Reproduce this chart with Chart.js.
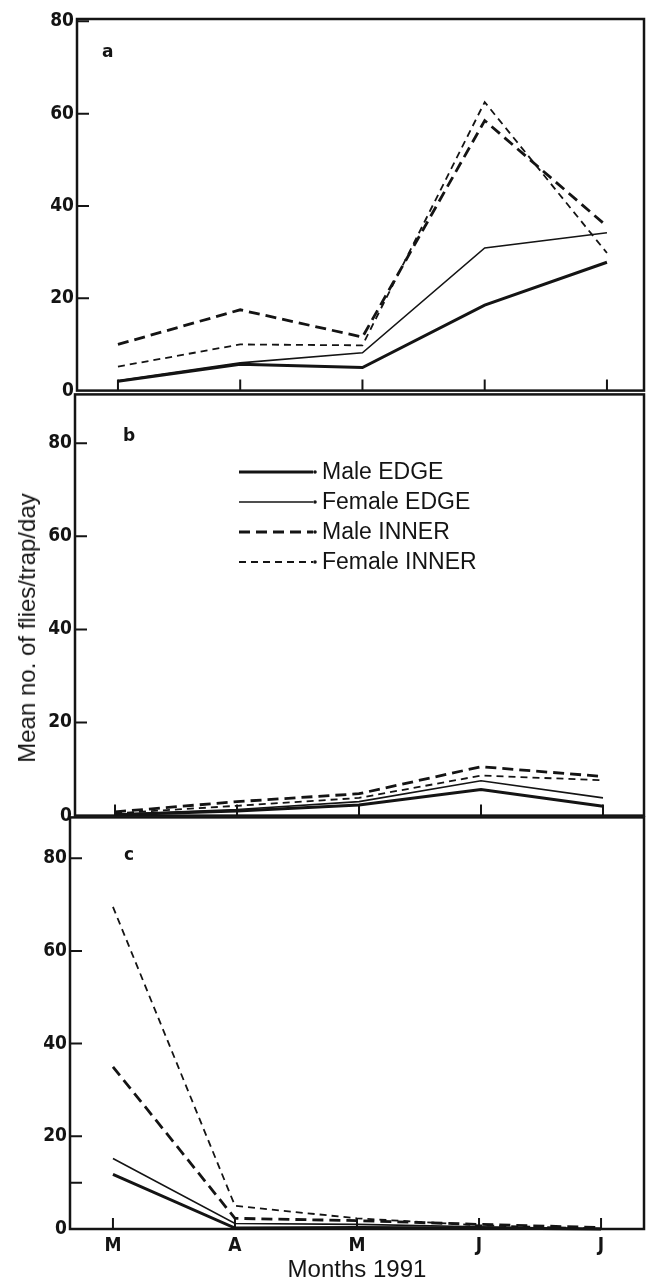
<!DOCTYPE html>
<html>
<head>
<meta charset="utf-8">
<script src="https://cdn.jsdelivr.net/npm/chart.js@4.4.1/dist/chart.umd.min.js"></script>
<style>
    html, body { margin: 0; padding: 0; background: #fff; }
    #wrap { position: relative; width: 646px; height: 1285px; overflow: hidden; }
    canvas { position: absolute; left: 0; }
    #ytitle {
        position: absolute; left: 27px; top: 628px;
        transform: translate(-50%, -50%) rotate(-90deg);
        font: 24px 'Liberation Sans', Arial, sans-serif;
        white-space: nowrap; color: #161616;
    }
</style>
</head>
<body>
<div id="wrap">
    <canvas id="chartA" width="646" height="405" style="top:0"></canvas>
    <canvas id="chartB" width="646" height="450" style="top:380px"></canvas>
    <canvas id="chartC" width="646" height="482" style="top:803px"></canvas>
    <div id="ytitle">Mean no. of flies/trap/day</div>
</div>
<script>
// --- Dados ---
const categories = ['M', 'A', 'M', 'J', 'J'];
const seriesNames = ['Male EDGE', 'Female EDGE', 'Male INNER', 'Female INNER'];

// painel a
const maleEdgeA = [2.0, 5.7, 5.0, 18.5, 27.8];
const femaleEdgeA = [2.2, 6.0, 8.2, 30.9, 34.2];
const maleInnerA = [10.0, 17.5, 11.6, 58.5, 35.6];
const femaleInnerA = [5.2, 10.0, 9.8, 62.5, 29.8];

// painel b
const maleEdgeB = [0.2, 1.0, 2.3, 5.6, 2.0];
const femaleEdgeB = [0.3, 1.3, 3.0, 7.5, 3.8];
const maleInnerB = [0.8, 3.0, 4.7, 10.5, 8.4];
const femaleInnerB = [0.5, 2.1, 3.8, 8.6, 7.6];

// painel c
const maleEdgeC = [11.8, 0.2, 0.3, 0.2, 0.0];
const femaleEdgeC = [15.2, 1.2, 1.0, 0.5, 0.0];
const maleInnerC = [35.0, 2.3, 1.8, 1.0, 0.3];
const femaleInnerC = [69.5, 5.0, 2.3, 0.8, 0.1];

// ticks
const yTicksA = [0, 20, 40, 60, 80];
const yTickLabelsA = ['0', '20', '40', '60', '80'];
const yTicksB = [0, 20, 40, 60, 80];
const yTickLabelsB = ['0', '20', '40', '60', '80'];
const yTicksC = [0, 10, 20, 40, 60, 80];
const yTickLabelsC = ['0', '', '20', '40', '60', '80'];

// --- Estilos ---
const INK = '#141414';
const tickFont = { family: "'DejaVu Sans Condensed', 'Liberation Sans Narrow', 'DejaVu Sans', sans-serif", size: 19, weight: 'bold' };
const lineStyles = [
    { borderWidth: 3.0, borderDash: [] },
    { borderWidth: 1.6, borderDash: [] },
    { borderWidth: 2.8, borderDash: [11, 6] },
    { borderWidth: 1.8, borderDash: [7, 5] }
];

function makeDatasets(seriesList) {
    return seriesList.map((values, k) => ({
        label: seriesNames[k],
        data: values.map((v, i) => ({ x: i, y: v })),
        borderColor: INK,
        borderWidth: lineStyles[k].borderWidth,
        borderDash: lineStyles[k].borderDash,
        pointRadius: 0,
        tension: 0,
        fill: false,
        clip: 4
    }));
}

// moldura, marcas internas e letra do painel
const framePlugin = {
    id: 'frame',
    afterDraw(chart, args, opts) {
        const { ctx, chartArea: a, scales: { x, y } } = chart;
        ctx.save();
        ctx.strokeStyle = INK;
        ctx.setLineDash([]);
        ctx.lineWidth = 2.5;
        ctx.strokeRect(a.left, a.top, a.right - a.left, a.bottom - a.top);

        ctx.lineWidth = 2;
        ctx.beginPath();
        y.ticks.forEach(t => {
            if (t.value === 0) return;
            const py = y.getPixelForValue(t.value);
            ctx.moveTo(a.left, py);
            ctx.lineTo(a.left + 12, py);
        });
        categories.forEach((c, i) => {
            const px = x.getPixelForValue(i);
            ctx.moveTo(px, a.bottom);
            ctx.lineTo(px, a.bottom - 11);
        });
        ctx.stroke();

        ctx.fillStyle = INK;
        ctx.font = "bold 17px 'DejaVu Sans', sans-serif";
        ctx.textBaseline = 'middle';
        ctx.fillText(opts.letter, opts.letterX, opts.letterY);
        ctx.restore();
    }
};

// legenda desenhada dentro do painel b
const lineLegendPlugin = {
    id: 'lineLegend',
    afterDraw(chart, args, opts) {
        if (!opts.show) return;
        const ctx = chart.ctx;
        ctx.save();
        chart.data.datasets.forEach((ds, k) => {
            const yy = opts.rows[k];
            ctx.strokeStyle = INK;
            ctx.lineWidth = ds.borderWidth;
            ctx.setLineDash(ds.borderDash);
            ctx.beginPath();
            ctx.moveTo(opts.x0, yy);
            ctx.lineTo(opts.x1, yy);
            ctx.stroke();
            ctx.setLineDash([]);
            ctx.fillStyle = INK;
            ctx.beginPath();
            ctx.arc(opts.x1 + 2, yy, 1.8, 0, Math.PI * 2);
            ctx.fill();
            ctx.font = "23px 'Liberation Sans', Arial, sans-serif";
            ctx.textBaseline = 'middle';
            ctx.fillText(ds.label, opts.textX, yy + 1);
        });
        ctx.restore();
    }
};

function buildPanel(canvasId, p) {
    const ctx = document.getElementById(canvasId).getContext('2d');
    return new Chart(ctx, {
        type: 'line',
        data: { datasets: makeDatasets(p.series) },
        options: {
            responsive: false,
            animation: false,
            layout: { padding: { top: p.padTop, bottom: p.padBottom, left: 0, right: 2 } },
            plugins: {
                legend: { display: false },
                tooltip: { enabled: false },
                frame: { letter: p.letter, letterX: p.letterX, letterY: p.letterY },
                lineLegend: p.legend || { show: false }
            },
            scales: {
                x: {
                    type: 'linear',
                    min: p.xMin,
                    max: p.xMax,
                    display: p.showX,
                    grid: { display: false, drawTicks: false },
                    border: { display: false },
                    afterBuildTicks: s => { s.ticks = categories.map((c, i) => ({ value: i })); },
                    ticks: {
                        callback: v => categories[v],
                        font: tickFont,
                        color: INK,
                        padding: 6,
                        autoSkip: false,
                        maxRotation: 0
                    },
                    title: {
                        display: p.showX,
                        text: 'Months 1991',
                        font: { family: "'Liberation Sans', Arial, sans-serif", size: 24 },
                        color: INK,
                        padding: { top: 0, bottom: 0 }
                    },
                    afterFit: s => { if (p.showX) s.height = 56; }
                },
                y: {
                    min: 0,
                    max: p.yMax,
                    grid: { display: false, drawTicks: false },
                    border: { display: false },
                    afterBuildTicks: s => { s.ticks = p.yTicks.map(v => ({ value: v })); },
                    ticks: {
                        callback: (v, i) => p.yTickLabels[i],
                        font: tickFont,
                        color: INK,
                        padding: 3
                    },
                    afterFit: s => { s.width = p.left; }
                }
            }
        },
        plugins: [framePlugin, lineLegendPlugin]
    });
}

// --- Inicialização ---
buildPanel('chartA', {
    series: [maleEdgeA, femaleEdgeA, maleInnerA, femaleInnerA],
    yTicks: yTicksA, yTickLabels: yTickLabelsA, yMax: 80.5,
    left: 77, xMin: -0.335, xMax: 4.303,
    padTop: 19, padBottom: 12, showX: false,
    letter: 'a', letterX: 102, letterY: 53
});

buildPanel('chartB', {
    series: [maleEdgeB, femaleEdgeB, maleInnerB, femaleInnerB],
    yTicks: yTicksB, yTickLabels: yTickLabelsB, yMax: 90.5,
    left: 75, xMin: -0.328, xMax: 4.336,
    padTop: 13, padBottom: 14, showX: false,
    letter: 'b', letterX: 123, letterY: 57,
    legend: { show: true, x0: 239, x1: 313, textX: 322, rows: [92, 122, 152, 182] }
});

buildPanel('chartC', {
    series: [maleEdgeC, femaleEdgeC, maleInnerC, femaleInnerC],
    yTicks: yTicksC, yTickLabels: yTickLabelsC, yMax: 88.8,
    left: 70, xMin: -0.352, xMax: 4.352,
    padTop: 13, padBottom: 0, showX: true,
    letter: 'c', letterX: 124, letterY: 53
});
</script>
</body>
</html>
